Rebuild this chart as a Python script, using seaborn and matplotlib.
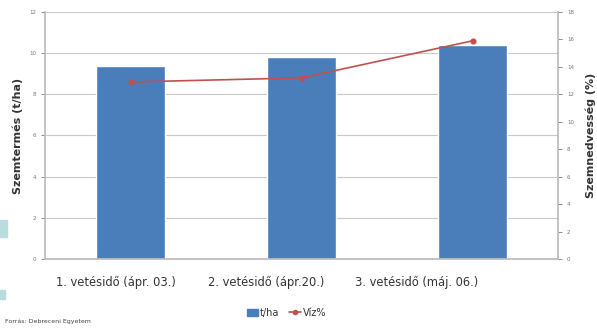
import matplotlib
matplotlib.use("Agg")
import matplotlib.pyplot as plt
import matplotlib.patches as mpatches
from matplotlib.lines import Line2D
import pandas as pd
import seaborn as sns

categories = ["1. vetésidő (ápr. 03.)", "2. vetésidő (ápr.20.)", "3. vetésidő (máj. 06.)"]
yield_tha = [9.4, 9.8, 10.4]
moisture_pct = [12.9, 13.2, 15.9]

df = pd.DataFrame({"cat": categories, "tha": yield_tha, "viz": moisture_pct})

sns.set_theme(style="white")
plt.rcParams["font.family"] = ["DejaVu Sans"]

blue = "#4a7ebb"
red = "#c0504d"

fig = plt.figure(figsize=(5.97, 3.29), dpi=100)
ax = fig.add_axes([0.0754, 0.2128, 0.8593, 0.7507])

sns.barplot(data=df, x="cat", y="tha", color=blue, width=0.4, saturation=1, ax=ax, zorder=2)
ax.set_ylim(0, 12)
ax.set_yticks(range(0, 13, 2))
ax.yaxis.grid(True, color="#c8c8c8", linewidth=0.8)
ax.set_axisbelow(True)
ax.set_xlabel("")
ax.set_ylabel("Szemtermés (t/ha)", fontsize=8, fontweight="bold", color="#333333")
ax.tick_params(axis="y", labelsize=4, colors="#777777", length=3, width=0.6)
ax.tick_params(axis="x", length=0, labelbottom=False)
for s in ["top", "right"]:
    ax.spines[s].set_visible(False)
ax.spines["left"].set_color("#bbbbbb")
ax.spines["bottom"].set_color("#bbbbbb")

ax2 = ax.twinx()
sns.pointplot(data=df, x="cat", y="viz", color=red, markers="o", markersize=3.5,
              linewidth=1.2, ax=ax2)
ax2.set_ylim(0, 18)
ax2.set_yticks(range(0, 19, 2))
ax2.set_xlabel("")
ax2.tick_params(axis="x", length=0, labelbottom=False)
ax2.set_ylabel("Szemnedvesség (%)", fontsize=8, fontweight="bold", color="#333333", labelpad=8)
ax2.tick_params(axis="y", labelsize=4, colors="#777777", length=3, width=0.6)
ax2.spines["top"].set_visible(False)
ax2.spines["left"].set_visible(False)
ax2.spines["right"].set_color("#bbbbbb")
ax2.spines["bottom"].set_visible(False)
ax.set_xlim(-0.5, 2.5)

# category labels sit a bit left of the bars in the source image
axl = fig.add_axes([41 / 597, 0.2128, 451 / 597, 0.001])
axl.set_xlim(-0.5, 2.5)
axl.set_xticks(range(len(categories)))
axl.set_xticklabels(categories, fontsize=8.3, color="#333333")
axl.tick_params(axis="x", length=0, pad=12)
axl.set_yticks([])
for s in axl.spines.values():
    s.set_visible(False)
axl.patch.set_visible(False)

handles = [mpatches.Patch(color=blue, label="t/ha"),
           Line2D([], [], color=red, marker="o", markersize=3, linewidth=1.2, label="Víz%")]
fig.legend(handles=handles, loc="center", bbox_to_anchor=(0.48, 0.05), ncol=2,
           frameon=False, fontsize=7, handlelength=1.2, handletextpad=0.2, columnspacing=1.0,
           labelcolor="#333333")

fig.text(0.008, 0.018, "Forrás: Debreceni Egyetem", fontsize=4.5, color="#444444")

# light teal slide decoration on the left edge
fig.patches.append(mpatches.Rectangle((0.0, 0.28), 0.012, 0.05, transform=fig.transFigure,
                                      color="#b9dcdc", zorder=0))
fig.patches.append(mpatches.Rectangle((0.0, 0.09), 0.008, 0.03, transform=fig.transFigure,
                                      color="#b9dcdc", zorder=0))

fig.savefig("out.png", dpi=100)
